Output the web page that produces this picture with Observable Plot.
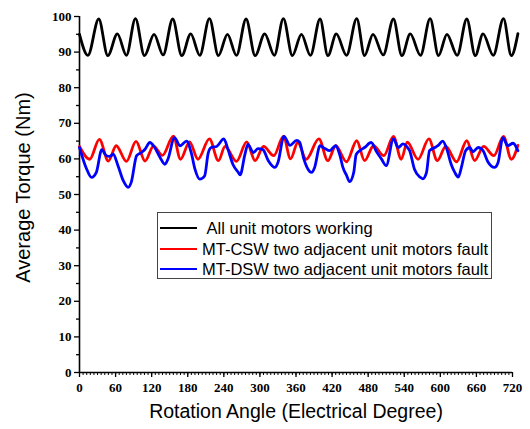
<!DOCTYPE html>
<html>
<head>
<meta charset="utf-8">
<script src="https://cdn.jsdelivr.net/npm/d3@7"></script>
<script src="https://cdn.jsdelivr.net/npm/@observablehq/plot@0.6"></script>
<style>
  body { margin: 0; background: #fff; }
  #chart { position: relative; width: 530px; height: 429px; }
  #chart svg { position: absolute; left: 0; top: 0; }
  .legend {
    position: absolute; left: 157px; top: 212px; width: 335px; height: 67px;
    border: 1px solid #444; background: #fff; box-sizing: border-box;
    font-family: "Liberation Sans", Arial, sans-serif; font-size: 16.5px; color: #000;
  }
  .legend .row { position: absolute; left: 0; height: 20px; display: flex; align-items: center; white-space: nowrap; }
  .legend .swatch { width: 37px; height: 0; border-top: 2.5px solid; margin-left: 2px; margin-right: 5px; }
</style>
</head>
<body>
<div id="chart"></div>
<script>
// Series labels
const seriesNames = [
  "All unit motors working",
  "MT-CSW two adjacent unit motors fault",
  "MT-DSW two adjacent unit motors fault"
];
const seriesColors = ["#000000", "#ff0000", "#0000ff"];

// Axis ticks
const xTicks = [0, 60, 120, 180, 240, 300, 360, 420, 480, 540, 600, 660, 720];
const xMinorTicks = d3.range(0, 721, 6);
const yTicks = [0, 10, 20, 30, 40, 50, 60, 70, 80, 90, 100];
const yMinorTicks = [5, 15, 25, 35, 45, 55, 65, 75, 85, 95];

// All unit motors working (electrical degree, Nm)
const blackAngle = [0, 14, 32, 47, 63, 78, 93, 108, 124, 139,
  155, 170, 185, 200, 216, 231, 246, 261, 277, 292,
  308, 324, 339, 354, 369, 384, 400, 413, 427, 444,
  461, 474, 488, 505, 522, 536, 550, 567, 583, 597,
  611, 628, 644, 658, 671, 688, 705, 718, 729];
const blackTorque = [95.0, 89.1, 99.3, 89.0, 95.1, 89.1, 99.4, 89.0, 95.0, 89.2,
  99.3, 89.0, 95.1, 89.1, 99.4, 89.0, 95.0, 89.1, 99.3, 89.0,
  95.1, 89.1, 99.4, 89.0, 95.0, 89.1, 99.3, 89.0, 95.1, 89.1,
  99.4, 89.0, 95.0, 89.2, 99.3, 89.0, 95.1, 89.1, 99.4, 89.0,
  95.0, 89.1, 99.3, 89.0, 95.1, 89.1, 99.4, 89.0, 95.2];

// MT-CSW two adjacent unit motors fault
const redAngle = [0, 17, 33, 48, 61, 78, 94, 109, 123, 138,
  156, 168, 183, 197, 216, 231, 242, 261, 278, 292,
  306, 323, 339, 351, 363, 377, 398, 413, 426, 444,
  461, 474, 489, 506, 522, 535, 545, 563, 581, 595,
  609, 627, 644, 657, 672, 689, 705, 718, 729];
const redTorque = [63.5, 59.9, 65.5, 59.4, 63.7, 59.3, 64.9, 59.4, 63.6, 61.0,
  66.4, 59.9, 64.8, 59.9, 65.6, 59.5, 63.5, 59.3, 64.8, 59.5,
  63.5, 60.9, 66.3, 60.0, 64.6, 59.9, 65.6, 59.5, 63.7, 59.2,
  65.1, 59.5, 63.7, 60.9, 66.3, 59.9, 64.7, 59.9, 65.6, 59.5,
  63.5, 59.2, 65.1, 59.5, 63.5, 60.9, 66.3, 59.9, 63.8];

// MT-DSW two adjacent unit motors fault
const blueAngle = [0, 12, 20, 28, 37, 44, 50, 56, 64, 73,
  81, 86, 95, 103, 109, 117, 125, 134, 142, 147,
  158, 167, 178, 186, 192, 200, 208, 214, 219, 228,
  240, 247, 255, 264, 267, 275, 280, 289, 297, 305,
  314, 325, 330, 340, 350, 361, 366, 373, 380, 386,
  391, 400, 408, 416, 422, 426, 433, 438, 444, 449,
  456, 460, 466, 474, 485, 494, 502, 510, 522, 530,
  538, 544, 549, 557, 566, 571, 577, 582, 591, 596,
  604, 611, 618, 624, 630, 635, 642, 649, 654, 663,
  671, 679, 690, 696, 704, 712, 721, 729];
const blueTorque = [63.2, 57.1, 54.8, 56.2, 62.6, 61.0, 60.7, 61.3, 58.1, 53.8,
  52.0, 53.4, 60.9, 61.8, 62.7, 64.6, 63.2, 60.4, 58.5, 59.9,
  66.0, 63.7, 65.0, 61.6, 57.1, 54.3, 55.2, 61.6, 63.2, 63.5,
  65.6, 62.6, 58.5, 56.2, 55.5, 61.2, 64.1, 61.8, 62.9, 62.6,
  59.5, 57.6, 59.0, 66.3, 63.8, 65.2, 64.7, 60.0, 57.1, 56.2,
  57.6, 63.7, 62.9, 62.3, 63.2, 63.7, 61.0, 57.6, 55.4, 53.6,
  56.2, 61.2, 62.3, 63.2, 64.6, 62.0, 60.0, 58.1, 65.6, 63.2,
  64.2, 63.5, 62.3, 57.1, 54.9, 54.4, 56.2, 62.3, 63.2, 63.7,
  65.0, 62.6, 58.5, 56.2, 54.9, 57.6, 62.3, 63.2, 62.0, 63.2,
  62.3, 59.2, 57.6, 59.0, 66.0, 63.7, 64.4, 62.3];

const xTitle = "Rotation Angle (Electrical Degree)";
const yTitle = "Average Torque (Nm)";

const toRows = (angles, torques) => angles.map((a, i) => ({angle: a, torque: torques[i]}));
const black = toRows(blackAngle, blackTorque);
const red = toRows(redAngle, redTorque);
const blue = toRows(blueAngle, blueTorque);

const tickFont = {fontFamily: "'Liberation Serif', 'Times New Roman', serif", fontWeight: "bold", fontSize: 13};
const titleFont = "'Liberation Sans', Arial, sans-serif";
const lineStyle = {x: "angle", y: "torque", curve: "monotone-x", strokeWidth: 2.8, strokeLinejoin: "round", strokeLinecap: "round"};
const blank = () => "";

const chart = Plot.plot({
  width: 530,
  height: 429,
  marginLeft: 79,
  marginRight: 18,
  marginTop: 16,
  marginBottom: 57,
  x: {domain: [0, 720]},
  y: {domain: [0, 100]},
  style: {background: "transparent", color: "#000"},
  marks: [
    Plot.axisX({ticks: xMinorTicks, tickSize: 3, strokeWidth: 1, tickFormat: blank, label: null}),
    Plot.axisX({ticks: xTicks, tickSize: 5, tickPadding: 5, strokeWidth: 1.3, label: null, ...tickFont}),
    Plot.axisY({ticks: yMinorTicks, tickSize: 3, strokeWidth: 1.3, tickFormat: blank, label: null}),
    Plot.axisY({ticks: yTicks, tickSize: 5, tickPadding: 3, strokeWidth: 1.3, label: null, ...tickFont}),
    Plot.ruleY([0], {strokeWidth: 1.6}),
    Plot.ruleX([0], {strokeWidth: 1.6}),
    Plot.line(black, {...lineStyle, stroke: seriesColors[0]}),
    Plot.line(red, {...lineStyle, stroke: seriesColors[1]}),
    Plot.line(blue, {...lineStyle, stroke: seriesColors[2]}),
    Plot.text([xTitle], {frameAnchor: "bottom", textAnchor: "middle", dy: 45, fontSize: 19.5, fontFamily: titleFont, fill: "#000"}),
    Plot.text([yTitle], {frameAnchor: "left", textAnchor: "middle", rotate: -90, dx: -56, dy: -7, fontSize: 20, fontFamily: titleFont, fill: "#000"})
  ]
});

const root = document.getElementById("chart");
root.appendChild(chart);

// Legend box
const legend = document.createElement("div");
legend.className = "legend";
const rowTops = [5, 26, 46];
seriesNames.forEach((name, i) => {
  const row = document.createElement("div");
  row.className = "row";
  row.style.top = rowTops[i] + "px";
  const sw = document.createElement("span");
  sw.className = "swatch";
  sw.style.borderTopColor = seriesColors[i];
  const label = document.createElement("span");
  label.textContent = (i === 0 ? "\u00a0" : "") + name;
  row.appendChild(sw);
  row.appendChild(label);
  legend.appendChild(row);
});
root.appendChild(legend);
</script>
</body>
</html>
